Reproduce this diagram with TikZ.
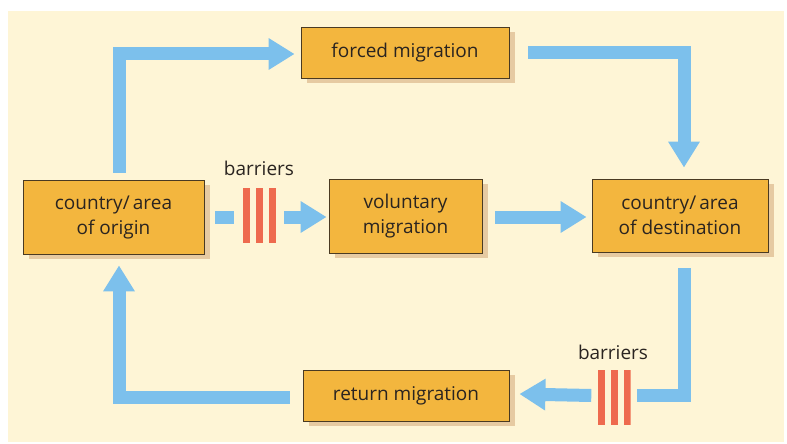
\documentclass[tikz,border=0pt]{standalone}
\usepackage{fontspec}
\setmainfont{Open Sans}
\usetikzlibrary{arrows.meta,calc,shadows}
\definecolor{cream}{HTML}{FEF5D6}
\definecolor{boxfill}{HTML}{F3B63E}
\definecolor{boxline}{HTML}{4A3A22}
\definecolor{flowblue}{HTML}{7CC0EC}
\definecolor{barred}{HTML}{EE6A4E}
\definecolor{shadowc}{HTML}{E6CAA2}
\definecolor{txt}{HTML}{2A2420}
\tikzset{
  box/.style={draw=boxline, line width=0.8pt, fill=boxfill, inner sep=0pt, align=center,
    text=txt, font=\fontsize{19}{25}\selectfont,
    drop shadow={shadow xshift=6pt, shadow yshift=-5pt, fill=shadowc, opacity=1}},
  flowline/.style={draw=flowblue, line width=13pt, line join=miter},
  flow/.style={flowline, -{Triangle[width=30pt,length=26pt]}},
  barrier/.style={minimum width=33pt, minimum height=55pt, inner sep=0pt,
    path picture={
      \fill[barred] (path picture bounding box.south west) rectangle ++(7pt,55pt);
      \fill[barred] ($(path picture bounding box.south west)+(13pt,0)$) rectangle ++(7pt,55pt);
      \fill[barred] ($(path picture bounding box.south west)+(26pt,0)$) rectangle ++(7pt,55pt);
    }},
  blabel/.style={text=txt, font=\fontsize{19}{22}\selectfont}
}
\begin{document}
\begin{tikzpicture}[x=1pt,y=-1pt]
\useasboundingbox (0,0) rectangle (787,444);
\fill[white] (0,0) rectangle (787,444);
\fill[cream] (8,11) rectangle (784,442);

\node[box, minimum width=181pt, minimum height=74pt] (origin) at (113.5,217) {country/\,area\\of origin};
\node[box, minimum width=208pt, minimum height=51pt] (forced) at (405,52.5) {forced migration};
\node[box, minimum width=153pt, minimum height=74pt] (voluntary) at (405.5,216) {voluntary\\migration};
\node[box, minimum width=176pt, minimum height=73pt] (destination) at (680,215.5) {country/\,area\\of destination};
\node[box, minimum width=206pt, minimum height=51pt] (return) at (406,395.5) {return migration};

\node[barrier] (bar1) at (259.5,215.5) {};
\node[barrier] (bar2) at (614,397) {};
\node[blabel] (bl1) at (259,168) {barriers};
\node[blabel] (bl2) at (613,352) {barriers};

\draw[flow] ($(origin.north)+(5.5,-7)$) |- ($(forced.west)+(-6,1.5)$);
\draw[flow] ($(forced.east)+(19,0.5)$) -| ($(destination.north)+(4,-11)$);
\draw[flowline] ($(origin.east)+(11,0)$) -- ($(bar1.west)+(-9,1.5)$);
\draw[flow] ($(bar1.east)+(8,1.5)$) -- ($(voluntary.west)+(-2,1)$);
\draw[flow] ($(voluntary.east)+(13,1)$) -- ($(destination.west)+(-5,1.5)$);
\draw[flowline] ($(destination.south)+(4,16)$) |- ($(bar2.east)+(6,-1.5)$);
\draw[flow] ($(bar2.west)+(-6,-1.5)$) -- ($(return.east)+(10,-1.5)$);
\draw[flow] ($(return.west)+(-13,1.5)$) -| ($(origin.south)+(5.5,11)$);
\end{tikzpicture}
\end{document}
